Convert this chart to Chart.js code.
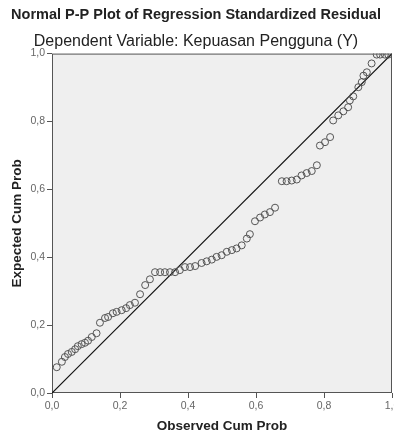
<!DOCTYPE html>
<html lang="id">
<head>
    <meta charset="UTF-8">
    <title>Normal P-P Plot of Regression Standardized Residual</title>
    <script src="https://cdn.jsdelivr.net/npm/chart.js"></script>
    <style>
        body { margin: 0; background: #fff; }
        #wrap { width: 394px; height: 437px; }
    </style>
</head>
<body>
<div id="wrap"><canvas id="ppChart" width="394" height="437"></canvas></div>
<script>
// observed vs expected cumulative probability
const observedCumProb = [
    0.014, 0.029, 0.038, 0.047, 0.058, 0.068, 0.076, 0.087, 0.097, 0.106,
    0.117, 0.131, 0.141, 0.156, 0.165, 0.179, 0.190, 0.205, 0.218, 0.229,
    0.244, 0.259, 0.274, 0.288, 0.303, 0.318, 0.332, 0.347, 0.362, 0.376,
    0.391, 0.406, 0.421, 0.440, 0.455, 0.470, 0.484, 0.499, 0.514, 0.529,
    0.543, 0.558, 0.573, 0.582, 0.597, 0.612, 0.626, 0.641, 0.656, 0.676,
    0.690, 0.705, 0.720, 0.734, 0.749, 0.764, 0.779, 0.788, 0.803, 0.818,
    0.827, 0.842, 0.857, 0.871, 0.876, 0.886, 0.901, 0.911, 0.916, 0.926,
    0.940, 0.955, 0.965, 0.979, 0.989
];
const expectedCumProb = [
    0.076, 0.092, 0.106, 0.115, 0.121, 0.129, 0.138, 0.144, 0.148, 0.154,
    0.165, 0.176, 0.207, 0.221, 0.224, 0.235, 0.239, 0.244, 0.250, 0.259,
    0.266, 0.291, 0.318, 0.335, 0.356, 0.356, 0.356, 0.356, 0.356, 0.362,
    0.371, 0.371, 0.374, 0.383, 0.388, 0.393, 0.401, 0.406, 0.416, 0.421,
    0.426, 0.435, 0.455, 0.468, 0.506, 0.517, 0.526, 0.533, 0.546, 0.624,
    0.624, 0.626, 0.629, 0.641, 0.648, 0.654, 0.671, 0.729, 0.739, 0.754,
    0.803, 0.818, 0.830, 0.842, 0.862, 0.874, 0.901, 0.916, 0.935, 0.945,
    0.971, 0.997, 0.997, 0.997, 0.997
];
const tickValues = [0, 0.2, 0.4, 0.6, 0.8, 1.0];
const diagonal = [0, 1];

const points = observedCumProb.map((x, i) => ({ x: x, y: expectedCumProb[i] }));

// grey plot area and frame
const plotFrame = {
    id: 'plotFrame',
    beforeDatasetsDraw(chart) {
        const { ctx, chartArea: a } = chart;
        ctx.save();
        ctx.fillStyle = '#efefef';
        ctx.fillRect(a.left, a.top, a.right - a.left, a.bottom - a.top);
        ctx.strokeStyle = '#555';
        ctx.lineWidth = 1;
        ctx.strokeRect(a.left + 0.5, a.top + 0.5, a.right - a.left - 1, a.bottom - a.top - 1);
        ctx.restore();
    }
};

function commaTick(v) {
    return v.toFixed(1).replace('.', ',');
}

// keep the edge tick labels from pushing the plot inwards
function noEdgePadding(s) {
    s.paddingLeft = 0; s.paddingRight = 0; s.paddingTop = 0; s.paddingBottom = 0;
    if (s._margins) {
        s._margins.left = 0; s._margins.right = 0; s._margins.top = 0; s._margins.bottom = 0;
    }
}

new Chart(document.getElementById('ppChart'), {
    type: 'scatter',
    data: {
        datasets: [{
            data: points,
            pointStyle: 'circle',
            pointRadius: 3.5,
            borderColor: '#555',
            borderWidth: 1,
            backgroundColor: 'rgba(0,0,0,0)'
        }, {
            type: 'line',
            data: diagonal.map(v => ({ x: v, y: v })),
            borderColor: '#111',
            borderWidth: 1.2,
            pointRadius: 0
        }]
    },
    options: {
        responsive: false,
        animation: false,
        layout: { autoPadding: false, padding: { left: 0, right: 2, bottom: 0 } },
        plugins: {
            legend: { display: false },
            tooltip: { enabled: false },
            title: {
                display: true,
                text: 'Normal P-P Plot of Regression Standardized Residual',
                color: '#222',
                font: { family: 'Liberation Sans', size: 14.5, weight: 'bold' },
                padding: { top: 6, bottom: 4 }
            },
            subtitle: {
                display: true,
                text: 'Dependent Variable: Kepuasan Pengguna (Y)',
                color: '#222',
                font: { family: 'Liberation Sans', size: 16 },
                padding: { top: 5, bottom: 2 }
            }
        },
        scales: {
            x: {
                type: 'linear',
                min: 0, max: 1,
                afterBuildTicks: s => { s.ticks = tickValues.map(v => ({ value: v })); },
                afterFit: s => { s.height = 44; noEdgePadding(s); },
                grid: { display: true, drawOnChartArea: false, tickLength: 5, color: '#555' },
                border: { display: false },
                ticks: {
                    color: '#666',
                    font: { family: 'Liberation Sans', size: 10.5 },
                    padding: 2,
                    maxRotation: 0,
                    callback: commaTick
                },
                title: {
                    display: true,
                    text: 'Observed Cum Prob',
                    color: '#222',
                    font: { family: 'Liberation Sans', size: 13.5, weight: 'bold' },
                    padding: { top: 6, bottom: 3 }
                }
            },
            y: {
                type: 'linear',
                min: 0, max: 1,
                afterBuildTicks: s => { s.ticks = tickValues.map(v => ({ value: v })); },
                afterFit: s => { s.width = 52; noEdgePadding(s); },
                grid: { display: true, drawOnChartArea: false, tickLength: 5, color: '#555' },
                border: { display: false },
                ticks: {
                    color: '#666',
                    font: { family: 'Liberation Sans', size: 10.5 },
                    padding: 2,
                    callback: commaTick
                },
                title: {
                    display: true,
                    text: 'Expected Cum Prob',
                    color: '#222',
                    font: { family: 'Liberation Sans', size: 13.5, weight: 'bold' },
                    padding: { top: 9, bottom: 4 }
                }
            }
        }
    },
    plugins: [plotFrame]
});
</script>
</body>
</html>
